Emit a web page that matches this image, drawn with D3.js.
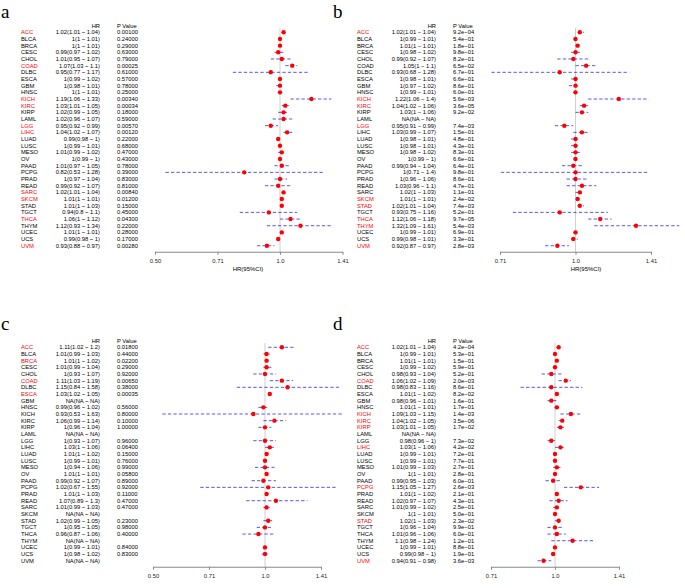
<!DOCTYPE html>
<html><head><meta charset="utf-8">
<script src="https://cdn.jsdelivr.net/npm/d3@7"></script>
<style>
html,body{margin:0;padding:0;background:#fff;}
svg{display:block;}
text{font-family:"Liberation Sans",Arial,Helvetica,sans-serif;}
</style></head>
<body>
<svg id="chart" width="685" height="588"></svg>
<script>
const cancers = ["ACC","BLCA","BRCA","CESC","CHOL","COAD","DLBC","ESCA","GBM","HNSC","KICH","KIRC","KIRP","LAML","LGG","LIHC","LUAD","LUSC","MESO","OV","PAAD","PCPG","PRAD","READ","SARC","SKCM","STAD","TGCT","THCA","THYM","UCEC","UCS","UVM"];

const hrA = [1.02,1,1,0.99,1.01,1.07,0.95,1,1,1,1.19,1.03,1.02,1.02,0.95,1.04,0.99,1,1.01,1,1.01,0.82,1,0.99,1.02,1.01,1.01,0.94,1.06,1.12,1.01,0.99,0.93];
const loA = [1.01,1,1,0.97,0.95,1.03,0.77,0.99,0.98,1,1.06,1.01,0.99,0.96,0.92,1.02,0.98,0.99,0.99,0.99,0.97,0.53,0.97,0.92,1.01,1,1,0.8,1,0.93,1,0.98,0.88];
const hiA = [1.04,1.01,1.01,1.02,1.07,1.1,1.17,1.02,1.01,1.01,1.33,1.05,1.05,1.07,0.99,1.07,1,1.01,1.02,1,1.05,1.28,1.04,1.07,1.04,1.01,1.03,1.1,1.12,1.34,1.01,1,0.97];
const pA = ["0.00100","0.24000","0.29000","0.63000","0.79000","0.00025","0.61000","0.57000","0.78000","0.25000","0.00340","0.00034","0.18000","0.59000","0.00570","0.00120","0.22000","0.68000","0.47000","0.43000","0.78000","0.39000","0.83000","0.81000","0.00840","0.01200","0.15000","0.45000","0.04300","0.22000","0.28000","0.17000","0.00280"];

const hrB = [1.02,1,1.01,1,0.99,1.05,0.93,1,1,1,1.22,1.04,1.03,null,0.95,1.03,1,1,1,1,0.99,1,1,1.03,1.02,1.01,1.02,0.93,1.12,1.32,1,0.99,0.92];
const loB = [1.01,0.99,1,0.98,0.92,1,0.68,0.98,0.97,0.99,1.06,1.02,1,null,0.91,0.99,0.98,0.98,0.98,0.99,0.94,0.71,0.96,0.96,1,1,1.01,0.75,1.06,1.09,0.99,0.98,0.87];
const hiB = [1.04,1.01,1.01,1.02,1.07,1.1,1.28,1.01,1.02,1.01,1.4,1.06,1.06,null,0.99,1.07,1.01,1.01,1.02,1,1.04,1.4,1.06,1.1,1.03,1.01,1.04,1.16,1.18,1.61,1.01,1.01,0.97];
const pB = ["9.2e-04","5.4e-01","1.8e-01","9.8e-01","8.2e-01","6.5e-02","6.7e-01","6.6e-01","8.6e-01","6.0e-01","5.6e-03","3.6e-05","9.2e-02","","7.4e-03","1.5e-01","4.8e-01","4.3e-01","8.3e-01","6.6e-01","6.4e-01","9.8e-01","8.6e-01","4.7e-01","1.1e-01","2.4e-02","7.4e-03","5.2e-01","9.7e-05","5.4e-03","6.9e-01","3.3e-01","2.8e-03"];

const hrC = [1.11,1.01,1.01,1.01,1,1.11,1.15,1.03,null,0.99,0.93,1.06,1,null,1,1.03,1.01,1,1,1.01,0.99,1.02,1.01,1.07,1.01,null,1.02,1,0.96,null,1,1,null];
const loC = [1.02,0.99,1,0.99,0.93,1.03,0.84,1.02,null,0.96,0.53,0.99,0.96,null,0.93,1,1,0.99,0.94,1,0.92,0.67,1,0.89,0.99,null,0.99,0.95,0.87,null,0.99,0.98,null];
const hiC = [1.2,1.03,1.02,1.04,1.07,1.19,1.58,1.05,null,1.02,1.63,1.14,1.04,null,1.07,1.06,1.02,1.01,1.06,1.01,1.07,1.55,1.03,1.3,1.03,null,1.05,1.05,1.06,null,1.01,1.02,null];
const pC = ["0.01800","0.44000","0.02200","0.29000","0.92000","0.00650","0.38000","0.00035","","0.56000","0.80000","0.10000","1.00000","","0.96000","0.06400","0.15000","0.76000","0.99000","0.05800","0.89000","0.92000","0.11000","0.47000","0.47000","","0.23000","0.98000","0.40000","","0.84000","0.83000",""];

const hrD = [1.02,1,1.01,1,0.98,1.06,0.98,1.01,0.98,1.01,1.09,1.04,1.03,null,0.98,1.03,1,1,1.01,1,0.99,1.15,1.01,1.02,1.01,1,1.02,1,1.01,1.1,1,0.99,0.94];
const loD = [1.01,0.99,1,0.99,0.93,1.02,0.83,1,0.96,1,1.03,1.02,1.01,null,0.96,1,0.99,0.99,0.99,1,0.95,1.05,1,0.97,0.99,1,1,0.96,0.96,0.98,0.99,0.98,0.91];
const hiD = [1.04,1.01,1.01,1.02,1.04,1.09,1.16,1.02,1.01,1.01,1.15,1.05,1.05,null,1,1.06,1.01,1.01,1.03,1.01,1.03,1.27,1.02,1.07,1.02,1.01,1.03,1.04,1.06,1.24,1.01,1,0.98];
const pD = ["4.2e-04","5.3e-01","1.5e-01","5.9e-01","5.2e-01","2.0e-03","8.6e-01","8.2e-02","1.6e-01","1.7e-01","1.4e-03","3.5e-06","1.7e-02","","7.3e-02","4.2e-02","7.2e-01","7.7e-01","2.7e-01","2.8e-01","6.0e-01","2.6e-03","2.1e-01","4.3e-01","2.5e-01","5.0e-01","2.3e-02","9.9e-01","6.0e-01","1.2e-01","8.8e-01","1.9e-01","3.6e-03"];

const tickValsWide = [0.5, 0.7071, 1, 1.4142];
const tickLabsWide = ["0.50","0.71","1.0","1.41"];
const tickValsNarrow = [0.7071, 1, 1.4142];
const tickLabsNarrow = ["0.71","1.0","1.41"];

const svg = d3.select("#chart");
const FS = 5.8, ROW = 6.67;

const panels = [
  {tag:"a", hr:hrA, lo:loA, hi:hiA, p:pA, sep:" ~ ", ox:0, top:32.3, tagX:1, tagY:17.5,
   dom:[0.5,1.4142], rng:[155,342.5], tv:tickValsWide, tl:tickLabsWide, xlab:248},
  {tag:"b", hr:hrB, lo:loB, hi:hiB, p:pB, sep:" \u2212 ", ox:336, top:32.3, tagX:333, tagY:17.5,
   dom:[0.7071,1.4142], rng:[500,651], tv:tickValsNarrow, tl:tickLabsNarrow, xlab:586},
  {tag:"c", hr:hrC, lo:loC, hi:hiC, p:pC, sep:" ~ ", ox:0, top:347.3, tagX:1, tagY:330,
   dom:[0.5,1.4142], rng:[153,321], tv:tickValsWide, tl:tickLabsWide, xlab:null},
  {tag:"d", hr:hrD, lo:loD, hi:hiD, p:pD, sep:" \u2212 ", ox:336, top:347.3, tagX:333, tagY:330,
   dom:[0.7071,1.4142], rng:[491,619], tv:tickValsNarrow, tl:tickLabsNarrow, xlab:null}
];

const fmt = v => v === null ? "NA" : String(+v);

panels.forEach(P => {
  const g = svg.append("g");
  const x = d3.scaleLog().base(2).domain(P.dom).range(P.rng);
  const y = i => P.top + i * ROW;
  const nameX = P.ox + 21, hrX = P.ox + 100, pX = P.ox + 117;
  const axisY = y(cancers.length - 1) + 6;

  g.append("text").attr("x", P.tagX).attr("y", P.tagY)
    .style("font-family", '"Liberation Serif","Times New Roman",serif')
    .style("font-size", "19px").text(P.tag);

  g.append("text").attr("x", hrX).attr("y", y(-1)).attr("text-anchor","end")
    .attr("dominant-baseline","central").style("font-size", FS+"px").text("HR");
  g.append("text").attr("x", pX).attr("y", y(-1))
    .attr("dominant-baseline","central").style("font-size", FS+"px").text("P Value");

  // reference line
  g.append("line").attr("x1", x(1)).attr("x2", x(1))
    .attr("y1", y(0) - 4.5).attr("y2", axisY)
    .attr("stroke", "#cfcfcf").attr("stroke-width", 1);

  cancers.forEach((c, i) => {
    const pv = P.p[i];
    const sig = pv !== "" && +pv < 0.05;
    const col = sig ? "#ff0000" : "#000000";
    g.append("text").attr("x", nameX).attr("y", y(i)).attr("dominant-baseline","central")
      .attr("fill", col).style("font-size", FS+"px").text(c);
    const hrText = fmt(P.hr[i]) + "(" + fmt(P.lo[i]) + P.sep + fmt(P.hi[i]) + ")";
    g.append("text").attr("x", hrX).attr("y", y(i)).attr("text-anchor","end")
      .attr("dominant-baseline","central").attr("fill", "#000")
      .style("font-size", FS+"px").text(hrText);
    if (pv !== "") {
      g.append("text").attr("x", pX).attr("y", y(i)).attr("dominant-baseline","central")
        .attr("fill", "#000").style("font-size", FS+"px").text(pv.replace("-", "\u2212"));
    }
    if (P.hr[i] !== null) {
      g.append("line").attr("x1", x(P.lo[i])).attr("x2", x(P.hi[i]))
        .attr("y1", y(i)).attr("y2", y(i))
        .attr("stroke", "#0000ff").attr("stroke-opacity", 0.75).attr("stroke-width", 0.9)
        .attr("stroke-dasharray", "3.3,2.2");
      g.append("circle").attr("cx", x(P.hr[i])).attr("cy", y(i)).attr("r", 2.2)
        .attr("fill", "#ff0000");
    }
  });

  const axis = d3.axisBottom(x).tickValues(P.tv).tickFormat((d, i) => P.tl[i])
    .tickSize(3).tickSizeOuter(0);
  const ag = g.append("g").attr("transform", `translate(0,${axisY})`).call(axis);
  ag.select(".domain").attr("stroke", "#888").attr("stroke-width", 1);
  ag.selectAll(".tick line").attr("stroke", "#888");
  ag.selectAll(".tick text").attr("fill", "#222").attr("dy", "0.9em")
    .style("font-size", FS+"px").style("font-family", '"Liberation Sans",Arial,sans-serif');

  if (P.xlab !== null) {
    g.append("text").attr("x", P.xlab).attr("y", axisY + 17).attr("text-anchor","middle")
      .attr("dominant-baseline","central").style("font-size", "6px").text("HR(95%CI)");
  }
});
</script>
</body></html>
